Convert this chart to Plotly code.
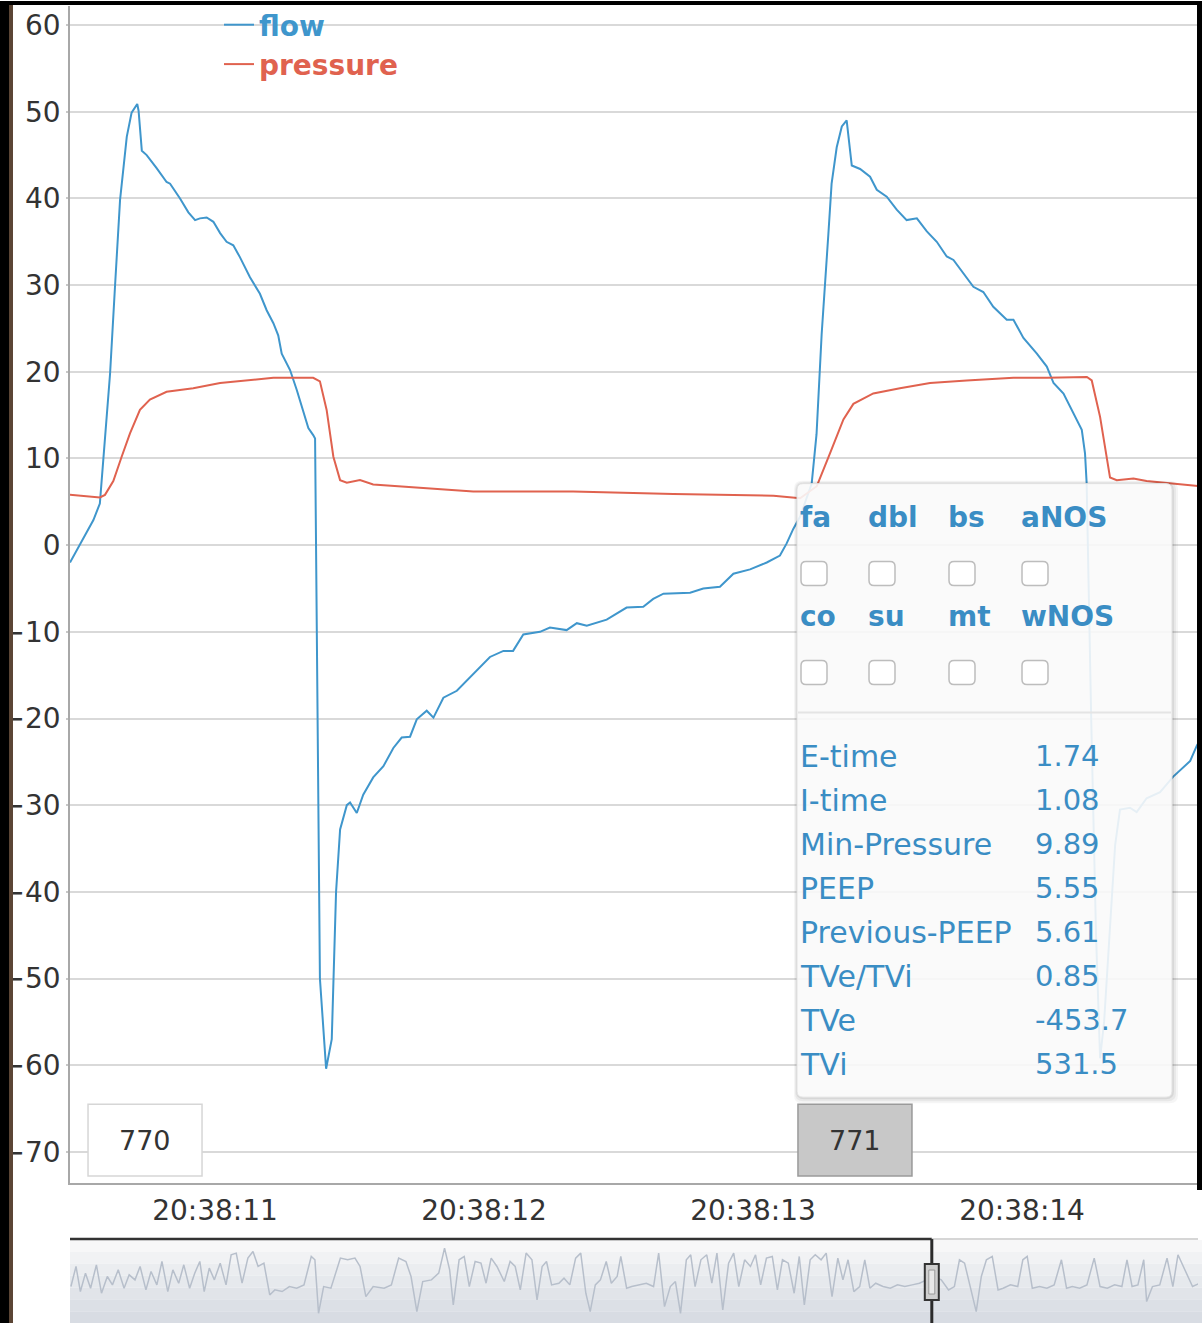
import pandas as pd
import plotly.graph_objects as go

# ---------------- data ----------------
BASE = pd.Timestamp("2020-01-01 20:38:00")

# seconds after 20:38:00
flow_t = [10.461, 10.548, 10.572, 10.585, 10.610, 10.628, 10.647, 10.672, 10.690, 10.711,
          10.716, 10.728, 10.746, 10.783, 10.820, 10.833, 10.870, 10.901, 10.926, 10.944,
          10.969, 10.994, 11.019, 11.043, 11.068, 11.093, 11.130, 11.167, 11.192, 11.217,
          11.235, 11.248, 11.279, 11.304, 11.328, 11.347, 11.365, 11.372, 11.390, 11.413,
          11.434, 11.450, 11.465, 11.490, 11.502, 11.527, 11.551, 11.588, 11.626, 11.663,
          11.694, 11.725, 11.750, 11.787, 11.812, 11.849, 11.899, 11.973, 12.022, 12.072,
          12.108, 12.146, 12.208, 12.245, 12.307, 12.345, 12.382, 12.456, 12.530, 12.592,
          12.629, 12.667, 12.766, 12.815, 12.877, 12.927, 12.989, 13.051, 13.100, 13.125,
          13.150, 13.175, 13.218, 13.236, 13.255, 13.280, 13.292, 13.311, 13.330, 13.348,
          13.354, 13.367, 13.398, 13.435, 13.460, 13.497, 13.534, 13.571, 13.609, 13.646,
          13.683, 13.720, 13.745, 13.782, 13.819, 13.856, 13.893, 13.943, 13.968, 14.005,
          14.055, 14.092, 14.117, 14.154, 14.191, 14.222, 14.234, 14.240, 14.257, 14.275,
          14.290, 14.305, 14.346, 14.364, 14.401, 14.426, 14.463, 14.513, 14.562, 14.625,
          14.650, 14.662]
flow_v = [-2.0, 2.9, 4.8, 10.2, 19.8, 29.7, 39.8, 47.1, 49.9, 50.9,
          50.1, 45.5, 45.0, 43.5, 41.9, 41.7, 40.0, 38.4, 37.5, 37.7,
          37.8, 37.3, 36.0, 35.0, 34.6, 33.2, 30.9, 29.0, 27.1, 25.6,
          24.2, 22.1, 20.2, 17.9, 15.6, 13.5, 12.7, 12.3, -50.0, -60.4,
          -57.0, -40.0, -32.8, -30.0, -29.7, -30.9, -28.8, -26.8, -25.5, -23.4,
          -22.2, -22.1, -20.1, -19.1, -19.9, -17.6, -16.8, -14.5, -12.9, -12.2,
          -12.2, -10.3, -10.0, -9.5, -9.8, -9.0, -9.3, -8.6, -7.2, -7.1,
          -6.2, -5.6, -5.5, -5.0, -4.8, -3.3, -2.8, -2.0, -1.2, 0.2,
          1.9, 3.3, 7.1, 12.8, 24.3, 35.9, 41.7, 45.9, 48.3, 49.0,
          47.5, 43.8, 43.4, 42.5, 41.0, 40.2, 38.7, 37.5, 37.7, 36.2,
          35.0, 33.3, 32.9, 31.4, 29.8, 29.2, 27.5, 26.0, 26.0, 23.9,
          22.1, 20.6, 18.7, 17.5, 15.2, 13.3, 10.6, 7.2, -20.0, -45.0,
          -59.2, -55.0, -34.6, -30.5, -30.3, -30.8, -29.2, -28.5, -26.7, -24.9,
          -23.1, -22.5]

pres_t = [10.461, 10.572, 10.591, 10.622, 10.653, 10.684, 10.721, 10.758, 10.820, 10.919,
          11.019, 11.118, 11.217, 11.365, 11.390, 11.415, 11.440, 11.465, 11.490, 11.539,
          11.588, 11.960, 12.331, 12.704, 12.952, 13.076, 13.175, 13.237, 13.286, 13.336,
          13.373, 13.447, 13.546, 13.658, 13.794, 13.968, 14.092, 14.241, 14.259, 14.290,
          14.327, 14.352, 14.414, 14.463, 14.662]
pres_v = [5.8, 5.5, 5.8, 7.4, 10.2, 12.9, 15.6, 16.8, 17.7, 18.1,
          18.7, 19.0, 19.3, 19.3, 18.9, 15.6, 10.2, 7.5, 7.2, 7.5,
          7.0, 6.2, 6.2, 5.9, 5.8, 5.7, 5.4, 6.8, 10.6, 14.5,
          16.3, 17.5, 18.1, 18.7, 19.0, 19.3, 19.3, 19.4, 19.0, 14.8,
          7.8, 7.5, 7.7, 7.4, 6.8]

# whole-session overview shown in the range selector (session seconds, flow)
ov_t = [3.0, 4.4, 5.6, 7.0, 8.4, 10.0, 11.4, 13.0, 14.4, 16.0, 17.6, 19.0, 20.6, 22.0, 23.6,
        25.0, 26.6, 28.0, 29.6, 31.0, 32.6, 34.0, 35.6, 37.0, 38.4, 39.6, 41.0, 42.4, 44.0,
        45.6, 47.0, 48.4, 50.0, 51.6, 53.0, 54.4, 56.0, 57.6, 59.0, 61.0, 63.0, 65.0, 67.0,
        69.0, 70.0, 71.0, 72.4, 74.4, 77.0, 79.0, 81.0, 82.4, 84.0, 86.0, 89.0, 91.0, 93.0,
        95.0, 96.4, 98.0, 99.6, 102.0, 104.0, 105.6, 107.0, 108.0, 109.6, 111.0, 112.4, 114.0,
        115.6, 117.0, 118.4, 120.0, 122.0, 123.6, 125.0, 126.4, 128.0, 129.6, 131.0, 132.4,
        133.6, 135.0, 137.0, 138.4, 140.0, 141.6, 143.0, 144.4, 145.6, 147.0, 148.4, 150.0,
        151.4, 153.0, 154.0, 155.6, 157.0, 159.0, 161.0, 163.0, 164.4, 166.0, 167.6, 169.0,
        170.4, 172.0, 173.2, 174.4, 176.0, 177.6, 179.0, 180.4, 182.0, 183.6, 185.0, 186.4,
        188.0, 189.6, 191.0, 192.4, 194.0, 195.6, 197.0, 198.4, 200.0, 201.6, 203.0, 204.4,
        206.0, 207.4, 209.0, 210.4, 212.0, 213.6, 215.0, 216.4, 218.0, 219.6, 221.0, 222.4,
        224.0, 226.0, 228.0, 230.0, 232.0, 234.0, 236.0, 238.0, 240.0, 242.0, 244.0, 245.6,
        247.0, 248.4, 250.0, 251.6, 253.0, 254.4, 256.0, 257.6, 259.0, 261.0, 263.0, 264.4,
        265.6, 267.0, 269.0, 271.0, 273.0, 275.0, 276.4, 278.0, 280.0, 282.0, 284.0, 285.6,
        287.6, 289.6, 291.6, 293.0, 294.4, 296.0, 297.6, 298.4, 300.0, 302.0, 304.0, 305.6,
        307.0, 309.0, 311.0, 313.0]
ov_v = [0, 30, -7.5, 20, -2.5, 32.5, -10, 15, 2.5, 25, -2.5, 17.5, 10, 30, -5,
        22.5, 2.5, 37.5, -7.5, 25, 5, 32.5, -2.5, 20, 37.5, -7.5, 27.5, 10, 35,
        2.5, 47.5, 50, 5, 42.5, 52.5, 30, 35, -12.5, -5, -7.5, 0, -2.5, 2.5,
        45, 40, -40, 0, -2.5, 42.5, 40, 42.5, 30, -15, 0, -2.5, 2.5, 42.5,
        37.5, 15, -37.5, 7.5, 10, 20, 57.5, 25, -27.5, 40, 45, 0, 37.5,
        35, 5, 42.5, 30, 7.5, 37.5, 30, -5, 50, 40, -20, 30,
        37.5, 2.5, 5, 12.5, 2.5, 42.5, 50, -10, -37.5, 2.5, 10, 37.5,
        5, 15, 45, -2.5, 0, 2.5, 5, 0, 50, -30, 0, 7.5,
        -40, 40, 47.5, 0, 40, 47.5, 5, 50, -35, 35, 50, 0,
        40, 30, 47.5, 2.5, 42.5, 45, -5, 40, 35, -10, 45, -27.5,
        40, 47.5, 40, 50, -15, 42.5, 10, 40, -7.5, 0, 40, -2.5,
        5, 0, -2.5, 2.5, 0, 2.5, 5, 10, 15, 10, -5, 0,
        40, 35, 0, -37.5, 15, 40, 45, -5, -2.5, 2.5, 0, 40,
        45, -2.5, 0, -2.5, 2.5, 40, -2.5, 0, -2.5, 2.5, 42.5, 0,
        -2.5, 2.5, 0, 40, 0, 2.5, 40, -22.5, 0, 2.5, 42.5, 0,
        47.5, 25, 0, 5]

view_start, view_end = 10.461, 14.654       # seconds after 20:38:00
window_start = 239.4                         # session second of the visible window
x_tick_labels = ["20:38:11", "20:38:12", "20:38:13", "20:38:14"]
y_ticks = [-70, -60, -50, -40, -30, -20, -10, 0, 10, 20, 30, 40, 50, 60]

breath_ids = ["770", "771"]
breath_label_t = [10.528, 13.167]            # seconds after 20:38:00

flags_row1 = ["fa", "dbl", "bs", "aNOS"]
flags_row2 = ["co", "su", "mt", "wNOS"]
stat_names = ["E-time", "I-time", "Min-Pressure", "PEEP", "Previous-PEEP", "TVe/TVi", "TVe", "TVi"]
stat_values = ["1.74", "1.08", "9.89", "5.55", "5.61", "0.85", "-453.7", "531.5"]

FLOW_C = "#3f96cc"
PRES_C = "#e0624f"
TIP_C = "#3a8dc4"
FONT = "DejaVu Sans"

# ---------------- layout helpers ----------------
W, H = 1202, 1323
ML, MR, MT, MB = 70, 4, 5, 0
PW, PH = W - ML - MR, H - MT - MB


def px2x(px):
    return (px - ML) / PW


def px2y(py):
    return (H - MB - py) / PH


def ts(secs):
    return [BASE + pd.Timedelta(seconds=s) for s in secs]


def rrect(x0, y0, x1, y1, r):
    P = lambda a, b: f"{px2x(a):.6f},{px2y(b):.6f}"
    pts = ["M" + P(x0 + r, y0),
           "L" + P(x1 - r, y0), "Q" + P(x1, y0) + " " + P(x1, y0 + r),
           "L" + P(x1, y1 - r), "Q" + P(x1, y1) + " " + P(x1 - r, y1),
           "L" + P(x0 + r, y1), "Q" + P(x0, y1) + " " + P(x0, y1 - r),
           "L" + P(x0, y0 + r), "Q" + P(x0, y0) + " " + P(x0 + r, y0)]
    return " ".join(pts) + " Z"


fig = go.Figure()
fig.add_trace(go.Scatter(x=ts(flow_t), y=flow_v, mode="lines",
                         line=dict(color=FLOW_C, width=2),
                         name=f"<span style='color:{FLOW_C}'>flow</span>"))
fig.add_trace(go.Scatter(x=ts(pres_t), y=pres_v, mode="lines",
                         line=dict(color=PRES_C, width=2),
                         name=f"<span style='color:{PRES_C}'>pressure</span>"))
fig.add_trace(go.Scatter(x=ov_t, y=ov_v, mode="lines", xaxis="x2", yaxis="y2",
                         line=dict(color="#b7bfcb", width=1.5), showlegend=False))

shapes = []
annotations = []

# range selector background bands (gradient)
band_cols = ["#f7f7f8", "#f1f2f4", "#ebedf0", "#e6e9ed", "#e1e4e9", "#dce0e6", "#d8dce3"]
top, bot = 1240, 1323
n = len(band_cols)
for i, c in enumerate(band_cols):
    ya = top + (bot - top) * i / n
    yb = top + (bot - top) * (i + 1) / n
    shapes.append(dict(type="rect", xref="paper", yref="paper", x0=0, x1=px2x(1202),
                       y0=px2y(yb), y1=px2y(ya), fillcolor=c, line=dict(width=0), layer="below"))
ov_range = [2.75, 312.5]
shapes.append(dict(type="line", xref="x2", yref="paper", x0=ov_range[0], x1=window_start,
                   y0=px2y(1239), y1=px2y(1239), line=dict(color="#333333", width=2.5)))
shapes.append(dict(type="line", xref="x2", yref="paper", x0=window_start, x1=ov_range[1] + 2,
                   y0=px2y(1239), y1=px2y(1239), line=dict(color="#c8c8c8", width=1.5)))
shapes.append(dict(type="line", xref="x2", yref="paper", x0=window_start, x1=window_start,
                   y0=0, y1=px2y(1239), line=dict(color="#2b2b2b", width=3)))
shapes.append(dict(type="rect", xref="x2", xsizemode="pixel", xanchor=window_start, x0=-7, x1=7,
                   yref="paper", y0=px2y(1300), y1=px2y(1264),
                   fillcolor="#cfcfcf", line=dict(color="#333333", width=2)))
shapes.append(dict(type="rect", xref="x2", xsizemode="pixel", xanchor=window_start, x0=-3, x1=3,
                   yref="paper", y0=px2y(1294), y1=px2y(1270),
                   fillcolor="#e8e8e8", line=dict(color="#999999", width=1)))

# breath number boxes
for i, (bid, bt) in enumerate(zip(breath_ids, breath_label_t)):
    sel = i == 1
    shapes.append(dict(type="rect", xref="x", xsizemode="pixel",
                       xanchor=BASE + pd.Timedelta(seconds=bt), x0=0, x1=114,
                       yref="paper", y0=px2y(1176), y1=px2y(1104),
                       fillcolor="#c8c8c8" if sel else "white",
                       line=dict(color="#9a9a9a" if sel else "#d6d6d6", width=1.5)))
    annotations.append(dict(xref="x", yref="paper", x=BASE + pd.Timedelta(seconds=bt), xshift=57,
                            y=px2y(1140), text=bid, showarrow=False, xanchor="center",
                            yanchor="middle", font=dict(family=FONT, size=27, color="#333333")))

# tooltip panel with soft shadow
for off, a in [(6, 0.04), (4, 0.05), (2, 0.07)]:
    shapes.append(dict(type="path", xref="paper", yref="paper",
                       path=rrect(797 - off / 2, 483 - off / 2, 1172 + off, 1097 + off, 8),
                       fillcolor=f"rgba(0,0,0,{a})", line=dict(width=0), layer="above"))
shapes.append(dict(type="path", xref="paper", yref="paper", path=rrect(797, 483, 1172, 1097, 6),
                   fillcolor="rgba(255,255,255,0.88)", line=dict(color="#e2e2e2", width=1),
                   layer="above"))
shapes.append(dict(type="line", xref="paper", yref="paper", x0=px2x(798), x1=px2x(1171),
                   y0=px2y(712), y1=px2y(712), line=dict(color="#e4e4e4", width=2), layer="above"))

col_x = [800, 868, 948, 1021]
for row_y, box_y, names in [(517, 573, flags_row1), (616, 672, flags_row2)]:
    for cx, nm in zip(col_x, names):
        annotations.append(dict(xref="paper", yref="paper", x=px2x(cx - 2), y=px2y(row_y),
                                text=nm, showarrow=False, xanchor="left", yanchor="middle",
                                font=dict(family=FONT, size=28, color=TIP_C, weight="bold")))
        shapes.append(dict(type="path", xref="paper", yref="paper",
                           path=rrect(cx + 1, box_y - 12, cx + 27, box_y + 12, 5),
                           fillcolor="white", line=dict(color="#bdbdbd", width=1.5), layer="above"))

for i, (nm, val) in enumerate(zip(stat_names, stat_values)):
    yy = 756 + 44 * i
    annotations.append(dict(xref="paper", yref="paper", x=px2x(798), y=px2y(yy), text=nm,
                            showarrow=False, xanchor="left", yanchor="middle",
                            font=dict(family=FONT, size=30, color=TIP_C)))
    annotations.append(dict(xref="paper", yref="paper", x=px2x(1033), y=px2y(yy), text=val,
                            showarrow=False, xanchor="left", yanchor="middle",
                            font=dict(family=FONT, size=29, color=TIP_C)))

# screen bezel
shapes += [
    dict(type="rect", xref="paper", yref="paper", x0=px2x(0), x1=px2x(9), y0=px2y(1323), y1=px2y(0),
         fillcolor="black", line=dict(width=0)),
    dict(type="rect", xref="paper", yref="paper", x0=px2x(9), x1=px2x(13), y0=px2y(1323), y1=px2y(0),
         fillcolor="#5b4535", line=dict(width=0)),
    dict(type="rect", xref="paper", yref="paper", x0=px2x(0), x1=px2x(1202), y0=px2y(4), y1=px2y(0),
         fillcolor="black", line=dict(width=0)),
    dict(type="rect", xref="paper", yref="paper", x0=px2x(1197), x1=px2x(1202), y0=px2y(1190),
         y1=px2y(0), fillcolor="black", line=dict(width=0)),
]

tickvals = [pd.Timestamp(f"{BASE.date()} {lbl}") for lbl in x_tick_labels]

fig.update_layout(
    width=W, height=H,
    margin=dict(l=ML, r=MR, t=MT, b=MB),
    paper_bgcolor="white", plot_bgcolor="white",
    font=dict(family=FONT, size=28, color="#333333"),
    hovermode=False,
    showlegend=True,
    legend=dict(x=px2x(219), y=px2y(-1), xanchor="left", yanchor="top",
                bgcolor="rgba(0,0,0,0)", borderwidth=0,
                font=dict(family=FONT, size=28, weight="bold"), tracegroupgap=0),
    xaxis=dict(type="date", range=ts([view_start, view_end]), domain=[0, 1],
               tickvals=tickvals, ticktext=x_tick_labels, showgrid=False,
               showline=True, linecolor="#a8a8a8", linewidth=1.5, ticks="",
               ticklabelstandoff=2, tickfont=dict(size=28, color="#333333"),
               zeroline=False, anchor="y"),
    yaxis=dict(range=[-73.6, 62.2], domain=[px2y(1183), 1], tickvals=y_ticks,
               showgrid=True, gridcolor="#d9d9d9", gridwidth=2,
               showline=True, linecolor="#a8a8a8", linewidth=1.5,
               ticks="outside", ticklen=2, tickcolor="#c8c8c8", tickwidth=2,
               tickfont=dict(size=28, color="#333333"), zeroline=False, anchor="x"),
    xaxis2=dict(range=ov_range, domain=[0, 1], anchor="y2", showgrid=False, showline=False,
                showticklabels=False, ticks="", zeroline=False),
    yaxis2=dict(range=[-54.5, 71], domain=[0, px2y(1239)], anchor="x2", showgrid=False,
                showline=False, showticklabels=False, ticks="", zeroline=False),
    shapes=shapes,
    annotations=annotations,
)

fig.write_html("out.html", config={"displayModeBar": False},
               post_script="document.body.style.margin='0px';document.body.style.overflow='hidden';")
